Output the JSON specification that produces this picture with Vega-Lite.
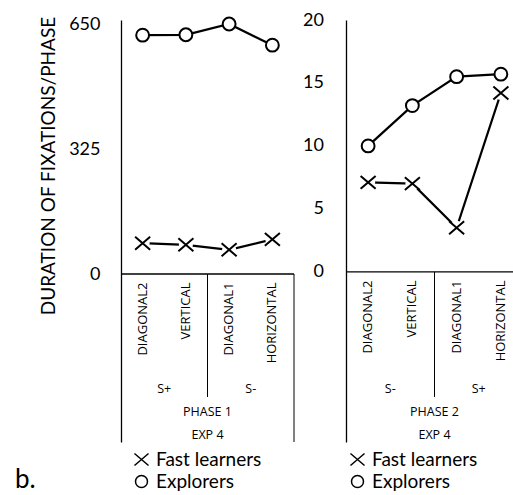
{
  "$schema": "https://vega.github.io/schema/vega-lite/v6.json",
  "background": "white",
  "padding": {"left": 15, "top": 11, "right": 0, "bottom": 4},
  "config": {"view": {"stroke": null}, "font": "Lato"},
  "datasets": {
    "phase1": [
      {"cat": "DIAGONAL2", "learner": "Fast learners", "value": 80},
      {"cat": "VERTICAL", "learner": "Fast learners", "value": 76},
      {"cat": "DIAGONAL1", "learner": "Fast learners", "value": 63},
      {"cat": "HORIZONTAL", "learner": "Fast learners", "value": 90},
      {"cat": "DIAGONAL2", "learner": "Explorers", "value": 621},
      {"cat": "VERTICAL", "learner": "Explorers", "value": 622},
      {"cat": "DIAGONAL1", "learner": "Explorers", "value": 650},
      {"cat": "HORIZONTAL", "learner": "Explorers", "value": 595}
    ],
    "phase2": [
      {"cat": "DIAGONAL2", "learner": "Fast learners", "value": 7.1},
      {"cat": "VERTICAL", "learner": "Fast learners", "value": 7.0},
      {"cat": "DIAGONAL1", "learner": "Fast learners", "value": 3.5},
      {"cat": "HORIZONTAL", "learner": "Fast learners", "value": 14.2},
      {"cat": "DIAGONAL2", "learner": "Explorers", "value": 10.0},
      {"cat": "VERTICAL", "learner": "Explorers", "value": 13.2},
      {"cat": "DIAGONAL1", "learner": "Explorers", "value": 15.5},
      {"cat": "HORIZONTAL", "learner": "Explorers", "value": 15.7}
    ]
  },
  "spacing": 7,
  "resolve": {
    "scale": {"x": "independent", "y": "independent", "shape": "independent"},
    "legend": {"shape": "independent"}
  },
  "hconcat": [
    {
      "width": 173,
      "height": 422,
      "title": {"text": "b.", "orient": "bottom", "anchor": "start", "frame": "group", "dx": -106, "offset": -4, "baseline": "alphabetic", "fontSize": 26, "fontWeight": "normal", "font": "Lato", "color": "black"},
      "layer": [
        {
          "data": {"values": [{}]},
          "mark": {"type": "rule", "color": "black", "strokeWidth": 1.3},
          "encoding": {"y": {"datum": 0, "type": "quantitative"}}
        },
        {
          "data": {"name": "phase1"},
          "mark": {"type": "line", "color": "black", "strokeWidth": 2.25},
          "encoding": {
            "x": {
              "field": "cat", "type": "nominal", "bandPosition": 0.5,
              "scale": {"type": "band", "domain": ["DIAGONAL2", "VERTICAL", "DIAGONAL1", "HORIZONTAL"], "paddingInner": 0, "paddingOuter": 0},
              "axis": {"title": null, "orient": "bottom", "offset": -168, "domain": false, "ticks": false, "grid": false, "labelAngle": -90, "labelFont": "Open Sans", "labelFontSize": 13, "labelColor": "black", "labelPadding": 8}
            },
            "y": {
              "field": "value", "type": "quantitative",
              "scale": {"domain": [-436.8, 660.4], "nice": false, "zero": false},
              "axis": {"values": [0, 325, 650], "title": "DURATION OF FIXATIONS/PHASE", "titleFont": "Lato", "titleFontSize": 19, "titleFontWeight": "normal", "titleColor": "black", "titleX": -73, "titleY": 145.5, "titleAngle": 270, "titleAlign": "center", "titleBaseline": "middle", "ticks": false, "grid": false, "domainColor": "black", "domainWidth": 1.3, "labelFont": "Lato", "labelFontSize": 18, "labelColor": "black", "labelPadding": 21}
            },
            "detail": {"field": "learner"}
          }
        },
        {
          "data": {"name": "phase1"},
          "transform": [{"filter": "datum.learner === 'Fast learners'"}],
          "mark": {"type": "point", "shape": "circle", "filled": true, "color": "white", "opacity": 1, "size": 200},
          "encoding": {
            "x": {"field": "cat", "type": "nominal", "bandPosition": 0.5},
            "y": {"field": "value", "type": "quantitative"}
          }
        },
        {
          "data": {"name": "phase1"},
          "mark": {"type": "point", "filled": false, "fill": "white", "stroke": "black", "strokeWidth": 2, "size": 165, "opacity": 1},
          "encoding": {
            "x": {"field": "cat", "type": "nominal", "bandPosition": 0.5},
            "y": {"field": "value", "type": "quantitative"},
            "shape": {
              "field": "learner", "type": "nominal",
              "scale": {"domain": ["Fast learners", "Explorers"], "range": ["M-1.17,-1L1.17,1M-1.17,1L1.17,-1", "circle"]},
              "legend": {
                "orient": "none", "legendX": 11, "legendY": 430, "direction": "vertical", "title": null, "padding": 0,
                "labelFont": "Lato", "labelFontSize": 19, "labelColor": "black", "labelOffset": 5, "rowPadding": 2, "symbolSize": 144
              }
            }
          }
        },
        {
          "data": {"values": [{}]},
          "mark": {"type": "rule", "color": "black", "strokeWidth": 1},
          "encoding": {
            "x": {"datum": "VERTICAL", "type": "nominal", "bandPosition": 1},
            "y": {"datum": 0, "type": "quantitative"},
            "y2": {"datum": -319.8}
          }
        },
        {
          "data": {"values": [{}]},
          "mark": {"type": "rule", "color": "black", "strokeWidth": 1},
          "encoding": {
            "x": {"datum": "HORIZONTAL", "type": "nominal", "bandPosition": 1},
            "y": {"datum": 0, "type": "quantitative"},
            "y2": {"datum": -436.8}
          }
        },
        {
          "data": {"values": [{"label": "S+", "after": "DIAGONAL2"}, {"label": "S-", "after": "DIAGONAL1"}]},
          "mark": {"type": "text", "font": "Open Sans", "fontSize": 12.5, "color": "black", "baseline": "middle"},
          "encoding": {
            "x": {"field": "after", "type": "nominal", "bandPosition": 1},
            "y": {"datum": -299, "type": "quantitative"},
            "text": {"field": "label"}
          }
        },
        {
          "data": {"values": [{"label": "PHASE 1"}]},
          "mark": {"type": "text", "font": "Open Sans", "fontSize": 12.5, "color": "black", "baseline": "middle"},
          "encoding": {
            "x": {"datum": "VERTICAL", "type": "nominal", "bandPosition": 1},
            "y": {"datum": -358.8, "type": "quantitative"},
            "text": {"field": "label"}
          }
        },
        {
          "data": {"values": [{"label": "EXP 4"}]},
          "mark": {"type": "text", "font": "Open Sans", "fontSize": 12.5, "color": "black", "baseline": "middle"},
          "encoding": {
            "x": {"datum": "VERTICAL", "type": "nominal", "bandPosition": 1},
            "y": {"datum": -418.6, "type": "quantitative"},
            "text": {"field": "label"}
          }
        }
      ]
    },
    {
      "width": 168,
      "height": 422,
      "layer": [
        {
          "data": {"values": [{}]},
          "mark": {"type": "rule", "color": "black", "strokeWidth": 1.3},
          "encoding": {"y": {"datum": 0, "type": "quantitative"}}
        },
        {
          "data": {"name": "phase2"},
          "mark": {"type": "line", "color": "black", "strokeWidth": 2.25},
          "encoding": {
            "x": {
              "field": "cat", "type": "nominal", "bandPosition": 0.5,
              "scale": {"type": "band", "domain": ["DIAGONAL2", "VERTICAL", "DIAGONAL1", "HORIZONTAL"], "paddingInner": 0, "paddingOuter": 0, "range": [0, 177]},
              "axis": {"title": null, "orient": "bottom", "offset": -170, "domain": false, "ticks": false, "grid": false, "labelAngle": -90, "labelFont": "Open Sans", "labelFontSize": 13, "labelColor": "black", "labelPadding": 8}
            },
            "y": {
              "field": "value", "type": "quantitative",
              "scale": {"domain": [-13.52, 20], "nice": false, "zero": false},
              "axis": {"values": [0, 5, 10, 15, 20], "title": null, "ticks": false, "grid": false, "domainColor": "black", "domainWidth": 1.3, "labelFont": "Lato", "labelFontSize": 18, "labelColor": "black", "labelPadding": 22.5}
            },
            "detail": {"field": "learner"}
          }
        },
        {
          "data": {"name": "phase2"},
          "transform": [{"filter": "datum.learner === 'Fast learners'"}],
          "mark": {"type": "point", "shape": "circle", "filled": true, "color": "white", "opacity": 1, "size": 200},
          "encoding": {
            "x": {"field": "cat", "type": "nominal", "bandPosition": 0.5},
            "y": {"field": "value", "type": "quantitative"}
          }
        },
        {
          "data": {"name": "phase2"},
          "mark": {"type": "point", "filled": false, "fill": "white", "stroke": "black", "strokeWidth": 2, "size": 165, "opacity": 1},
          "encoding": {
            "x": {"field": "cat", "type": "nominal", "bandPosition": 0.5},
            "y": {"field": "value", "type": "quantitative"},
            "shape": {
              "field": "learner", "type": "nominal",
              "scale": {"domain": ["Fast learners", "Explorers"], "range": ["M-1.17,-1L1.17,1M-1.17,1L1.17,-1", "circle"]},
              "legend": {
                "orient": "none", "legendX": 2, "legendY": 430, "direction": "vertical", "title": null, "padding": 0,
                "labelFont": "Lato", "labelFontSize": 19, "labelColor": "black", "labelOffset": 5, "rowPadding": 2, "symbolSize": 144
              }
            }
          }
        },
        {
          "data": {"values": [{}]},
          "mark": {"type": "rule", "color": "black", "strokeWidth": 1},
          "encoding": {
            "x": {"datum": "VERTICAL", "type": "nominal", "bandPosition": 1},
            "y": {"datum": 0, "type": "quantitative"},
            "y2": {"datum": -9.94}
          }
        },
        {
          "data": {"values": [{"label": "S-", "after": "DIAGONAL2"}, {"label": "S+", "after": "DIAGONAL1"}]},
          "mark": {"type": "text", "font": "Open Sans", "fontSize": 12.5, "color": "black", "baseline": "middle"},
          "encoding": {
            "x": {"field": "after", "type": "nominal", "bandPosition": 1},
            "y": {"datum": -9.31, "type": "quantitative"},
            "text": {"field": "label"}
          }
        },
        {
          "data": {"values": [{"label": "PHASE 2"}]},
          "mark": {"type": "text", "font": "Open Sans", "fontSize": 12.5, "color": "black", "baseline": "middle"},
          "encoding": {
            "x": {"datum": "VERTICAL", "type": "nominal", "bandPosition": 1},
            "y": {"datum": -11.13, "type": "quantitative"},
            "text": {"field": "label"}
          }
        },
        {
          "data": {"values": [{"label": "EXP 4"}]},
          "mark": {"type": "text", "font": "Open Sans", "fontSize": 12.5, "color": "black", "baseline": "middle"},
          "encoding": {
            "x": {"datum": "VERTICAL", "type": "nominal", "bandPosition": 1},
            "y": {"datum": -12.96, "type": "quantitative"},
            "text": {"field": "label"}
          }
        }
      ]
    }
  ]
}
